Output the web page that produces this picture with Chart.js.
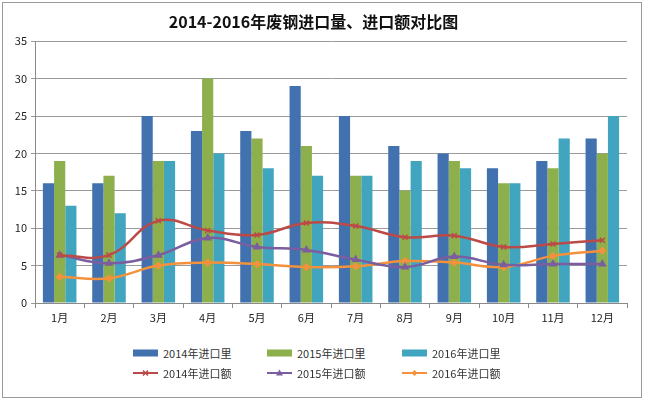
<!DOCTYPE html>
<html>
<head>
<meta charset="utf-8">
<script src="https://cdn.jsdelivr.net/npm/chart.js@4/dist/chart.umd.min.js"></script>
<style>
  body { margin: 0; background: #fff; }
  #frame { position: absolute; left: 2px; top: 2px; width: 638px; height: 394px; border: 1px solid #9a9a9a; }
  #wrap { position: absolute; left: 0; top: 0; width: 645px; height: 340px; }
  #legend { position: absolute; left: 133px; top: 343px; display: grid;
    grid-template-columns: 134px 135px 120px; grid-auto-rows: 20px;
    font: 11px "Noto Sans CJK SC", sans-serif; color: #333; }
  #legend div { display: flex; align-items: center; }
  #legend canvas { margin-right: 4px; }
</style>
</head>
<body>
<div id="frame"></div>
<div id="wrap"><canvas id="myChart" width="645" height="340"></canvas></div>
<div id="legend"></div>
<script>
const months = ['1月','2月','3月','4月','5月','6月','7月','8月','9月','10月','11月','12月'];
const yTicks = [0, 5, 10, 15, 20, 25, 30, 35];

// 进口量
const qty2014 = [16, 16, 25, 23, 23, 29, 25, 21, 20, 18, 19, 22];
const qty2015 = [19, 17, 19, 30, 22, 21, 17, 15, 19, 16, 18, 20];
const qty2016 = [13, 12, 19, 20, 18, 17, 17, 19, 18, 16, 22, 25];

// 进口额
const amt2014 = [6.4, 6.4, 11.0, 9.7, 9.1, 10.7, 10.3, 8.8, 9.0, 7.5, 7.9, 8.4];
const amt2015 = [6.4, 5.3, 6.4, 8.7, 7.5, 7.1, 5.8, 4.8, 6.2, 5.1, 5.2, 5.2];
const amt2016 = [3.5, 3.3, 5.0, 5.4, 5.2, 4.8, 4.9, 5.6, 5.4, 4.8, 6.3, 7.0];

const font = '"Noto Sans CJK SC", sans-serif';

function bar(label, data, color) {
  return { type: 'bar', label: label, data: data, backgroundColor: color, order: 2,
    categoryPercentage: 0.68, barPercentage: 1.0 };
}
function line(label, data, color, style, r) {
  return { type: 'line', label: label, data: data, borderColor: color, backgroundColor: color,
    borderWidth: 2.5, tension: 0.4, pointStyle: style, pointRadius: r, pointBorderWidth: 1.5,
    order: 1 };
}

const datasets = [
  bar('2014年进口里', qty2014, '#4171AE'),
  bar('2015年进口里', qty2015, '#8DAF4C'),
  bar('2016年进口里', qty2016, '#41A5C0'),
  line('2014年进口额', amt2014, '#BC4A47', 'crossRot', 3.5),
  line('2015年进口额', amt2015, '#7B5E9F', 'triangle', 3.5),
  line('2016年进口额', amt2016, '#F4913C', 'rectRot', 3)
];

var ctx = document.getElementById('myChart').getContext('2d');
var chart = new Chart(ctx, {
  data: { labels: months, datasets: datasets },
  options: {
    responsive: false,
    animation: false,
    layout: { padding: { top: 12, right: 18, left: 0, bottom: 0 } },
    plugins: {
      legend: { display: false },
      tooltip: { enabled: false },
      title: {
        display: true,
        text: '2014-2016年废钢进口量、进口额对比图',
        color: '#111',
        font: { family: font, size: 16, weight: 'bold' },
        padding: { top: 0, bottom: 10 }
      }
    },
    scales: {
      x: {
        grid: { drawOnChartArea: false, drawTicks: true, tickLength: 5, color: '#8a8a8a', offset: true },
        border: { color: '#8a8a8a' },
        ticks: { color: '#222', padding: 3, font: { family: font, size: 11 } },
        afterFit: function (s) { s.height = 37; }
      },
      y: {
        min: 0, max: 35,
        afterBuildTicks: function (s) { s.ticks = yTicks.map(v => ({ value: v })); },
        grid: { color: '#9a9a9a', tickLength: 4 },
        border: { color: '#8a8a8a' },
        ticks: { color: '#222', padding: 4, font: { family: font, size: 11 } },
        afterFit: function (s) { s.width = 35; }
      }
    }
  }
});

// legend below the chart, 3 columns
const legend = document.getElementById('legend');
datasets.forEach(function (ds) {
  const item = document.createElement('div');
  const sw = document.createElement('canvas');
  sw.width = 26; sw.height = 10;
  const c = sw.getContext('2d');
  if (ds.type === 'bar') {
    c.fillStyle = ds.backgroundColor;
    c.fillRect(0, 1.5, 25, 7);
  } else {
    c.strokeStyle = ds.borderColor;
    c.lineWidth = 2;
    c.beginPath(); c.moveTo(0, 5); c.lineTo(25, 5); c.stroke();
    c.lineWidth = 1.5;
    c.fillStyle = ds.borderColor;
    c.beginPath();
    if (ds.pointStyle === 'triangle') {
      c.moveTo(12.5, 1.5); c.lineTo(16, 7.5); c.lineTo(9, 7.5); c.closePath(); c.fill();
    } else if (ds.pointStyle === 'rectRot') {
      c.moveTo(12.5, 2); c.lineTo(15.5, 5); c.lineTo(12.5, 8); c.lineTo(9.5, 5); c.closePath(); c.fill();
    } else {
      c.moveTo(10, 2.5); c.lineTo(15, 7.5); c.moveTo(15, 2.5); c.lineTo(10, 7.5); c.stroke();
    }
  }
  item.appendChild(sw);
  const t = document.createElement('span');
  t.textContent = ds.label;
  item.appendChild(t);
  legend.appendChild(item);
});
</script>
</body>
</html>
